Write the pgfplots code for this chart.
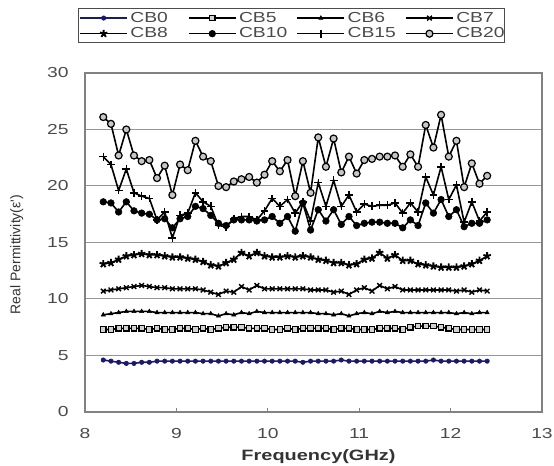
\documentclass[border=0pt]{standalone}
\usepackage{fontspec}
\setmainfont{Liberation Sans}[FakeStretch=1.33]
\newfontfamily\plainsans{Liberation Sans}
\usepackage{pgfplots}
\usepackage{pgfplotstable}
\pgfplotsset{compat=1.18}

\definecolor{axisgray}{RGB}{130,130,130}
\definecolor{gridgray}{RGB}{150,150,150}
\definecolor{labelgray}{RGB}{75,75,75}
\definecolor{navyline}{RGB}{25,25,110}

% real permittivity of the CB samples over the X band
\pgfplotstableread{
f      cb0 cb5 cb6 cb7  cb8  cb10 cb15 cb20
8.200  4.6 7.3 8.6 10.7 13.1 18.6 22.6 26.1
8.284  4.5 7.3 8.7 10.8 13.2 18.5 21.9 25.5
8.368  4.4 7.4 8.8 10.9 13.5 17.7 19.6 22.7
8.452  4.3 7.4 8.9 11.0 13.8 18.6 21.5 25.0
8.536  4.3 7.4 8.9 11.1 13.9 17.8 19.4 22.7
8.620  4.4 7.4 8.9 11.2 14.0 17.6 19.1 22.2
8.704  4.4 7.3 8.9 11.1 13.9 17.5 18.9 22.3
8.788  4.5 7.4 8.8 11.0 13.9 17.0 17.0 20.7
8.872  4.5 7.3 8.8 11.0 13.8 17.1 17.7 21.8
8.956  4.5 7.3 8.8 10.9 13.7 16.3 15.4 19.2
9.040  4.5 7.4 8.8 10.9 13.7 17.1 17.4 21.9
9.124  4.5 7.4 8.8 10.9 13.6 17.3 17.6 21.4
9.208  4.5 7.3 8.8 10.9 13.5 18.2 19.4 24.0
9.292  4.5 7.4 8.7 10.8 13.3 18.0 18.6 22.6
9.376  4.5 7.3 8.7 10.6 13.0 17.4 18.2 22.2
9.460  4.5 7.4 8.5 10.4 12.9 16.7 16.5 20.0
9.544  4.5 7.5 8.7 10.7 13.2 16.5 16.4 19.9
9.628  4.5 7.5 8.6 10.6 13.5 17.0 17.1 20.4
9.712  4.5 7.5 8.8 11.1 14.1 17.0 17.3 20.6
9.796  4.5 7.4 8.7 10.8 13.8 17.0 17.3 20.8
9.880  4.5 7.4 8.9 11.2 14.1 16.9 17.0 20.3
9.964  4.5 7.4 8.8 10.9 13.8 17.0 17.8 21.0
10.048 4.5 7.3 8.8 10.9 13.7 17.3 18.9 22.2
10.132 4.5 7.3 8.8 10.9 13.7 16.7 18.2 21.3
10.216 4.5 7.4 8.8 10.9 13.8 17.3 18.8 22.3
10.300 4.5 7.3 8.8 10.9 13.7 16.0 17.6 19.1
10.384 4.4 7.4 8.8 10.9 13.8 18.5 18.6 22.2
10.468 4.5 7.4 8.8 10.8 13.7 16.1 16.9 19.4
10.552 4.5 7.4 8.7 10.8 13.5 17.9 20.3 24.3
10.636 4.5 7.4 8.7 10.8 13.4 16.9 18.2 21.7
10.720 4.5 7.3 8.6 10.6 13.2 17.9 20.5 24.2
10.804 4.6 7.4 8.7 10.7 13.2 16.6 18.2 21.2
10.888 4.5 7.4 8.5 10.4 13.0 17.3 19.2 22.6
10.972 4.5 7.3 8.7 10.8 13.1 16.5 17.7 21.1
11.056 4.5 7.3 8.8 11.0 13.5 16.7 18.4 22.3
11.140 4.5 7.3 8.7 10.7 13.6 16.8 18.2 22.4
11.224 4.5 7.4 8.9 11.2 14.1 16.8 18.3 22.6
11.308 4.5 7.4 8.8 10.9 13.6 16.7 18.3 22.6
11.392 4.5 7.4 8.9 11.1 13.9 16.7 18.5 22.7
11.476 4.5 7.3 8.8 10.8 13.4 16.3 17.6 21.7
11.560 4.5 7.5 8.8 10.8 13.4 17.0 18.5 22.8
11.644 4.5 7.6 8.8 10.8 13.1 16.5 17.7 21.7
11.728 4.5 7.6 8.8 10.8 13.0 18.5 20.8 25.4
11.812 4.6 7.6 8.8 10.8 12.9 17.6 19.2 23.4
11.896 4.5 7.5 8.8 10.8 12.8 18.8 21.7 26.3
11.980 4.5 7.4 8.8 10.8 12.8 17.3 18.8 22.6
12.064 4.5 7.3 8.7 10.7 12.8 17.9 20.1 24.0
12.148 4.5 7.3 8.8 10.8 12.9 16.4 16.8 19.9
12.232 4.5 7.3 8.7 10.6 13.1 16.7 18.6 22.0
12.316 4.5 7.3 8.8 10.8 13.4 16.7 16.9 20.2
12.400 4.5 7.3 8.8 10.7 13.8 17.0 17.7 20.9
}\permtable

\begin{document}
\begin{tikzpicture}
\begin{axis}[
  scale only axis,
  width=457bp, height=339bp,
  xmin=8, xmax=13, ymin=0, ymax=30,
  xtick={8,9,...,13}, ytick={0,5,...,30},
  axis line style={axisgray, line width=1.4bp},
  ymajorgrids,
  grid style={gridgray, line width=1bp},
  tick align=inside,
  xtick pos=bottom, ytick pos=left,
  major tick length=4bp,
  ytick style={draw=none},
  xtick style={axisgray, line width=1bp},
  /pgf/number format/assume math mode=true,
  tick label style={font=\fontsize{14.5bp}{16bp}\selectfont, text=labelgray},
  yticklabel style={xshift=-13bp},
  xticklabel style={yshift=-13bp},
  xlabel={\textbf{Frequency(GHz)}},
  xlabel style={font=\fontsize{15bp}{17bp}\selectfont, text=black!80, xshift=5bp, yshift=-4bp},
  ylabel={\plainsans Real Permittivity(ε')},
  ylabel style={font=\fontsize{14bp}{16bp}\selectfont, text=black!80, yshift=17bp, xshift=-12bp},
  legend columns=4,
  legend cell align=left,
  legend style={
    at={(0.452,1.139)}, anchor=center,
    draw=black!70, line width=1bp,
    font=\fontsize{14.5bp}{16bp}\selectfont, text=labelgray,
    inner sep=1bp, row sep=-1bp,
    nodes={inner sep=2.5bp, text width=45bp},
    /tikz/every even column/.style={column sep=10bp},
  },
  legend image code/.code={%
    \draw[#1, mark repeat=2, mark phase=2]
      plot coordinates {(0bp,0bp) (23.5bp,0bp) (47bp,0bp)};},
  every axis plot/.append style={line width=1.6bp},
]
\addplot[navyline, mark=*, mark size=2.2bp, mark options={fill=navyline, line width=0.6bp}]
  table[x=f, y=cb0] {\permtable};
\addlegendentry{CB0}
\addplot[black, mark=square*, mark size=2.7bp, mark options={fill=gray!35, line width=1.2bp}]
  table[x=f, y=cb5] {\permtable};
\addlegendentry{CB5}
\addplot[black, mark=triangle*, mark size=2.4bp, mark options={fill=black, line width=0.5bp}]
  table[x=f, y=cb6] {\permtable};
\addlegendentry{CB6}
\addplot[black, mark=x, mark size=3.3bp, mark options={line width=1.4bp}]
  table[x=f, y=cb7] {\permtable};
\addlegendentry{CB7}
\addplot[black, mark=star, mark size=3.9bp, mark options={line width=1.9bp}]
  table[x=f, y=cb8] {\permtable};
\addlegendentry{CB8}
\addplot[black, mark=*, mark size=3.3bp, mark options={fill=black, line width=0.6bp}]
  table[x=f, y=cb10] {\permtable};
\addlegendentry{CB10}
\addplot[black, mark=+, mark size=3.9bp, mark options={line width=1.5bp}]
  table[x=f, y=cb15] {\permtable};
\addlegendentry{CB15}
\addplot[black, mark=*, mark size=3.5bp, mark options={fill=gray!45, line width=1.2bp}]
  table[x=f, y=cb20] {\permtable};
\addlegendentry{CB20}
\end{axis}
\pgfresetboundingbox
\path[use as bounding box] (-85bp,-54bp) rectangle (469bp,412bp);
\end{tikzpicture}
\end{document}
